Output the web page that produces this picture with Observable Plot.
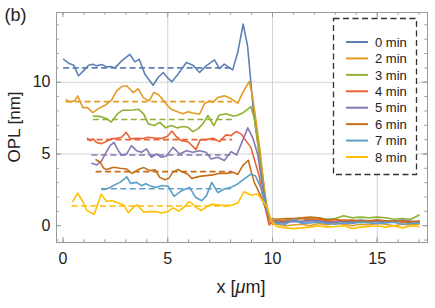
<!DOCTYPE html>
<html><head><meta charset="utf-8">
<script src="https://cdn.jsdelivr.net/npm/d3@7"></script>
<script src="https://cdn.jsdelivr.net/npm/@observablehq/plot@0.6"></script>
<style>
body{margin:0;background:#fff;}
#chart{width:435px;height:308px;font-family:"Liberation Sans",Arial,sans-serif;}
</style>
</head><body><div id="chart"></div>
<script>
// ---- data ----
const names = ["0 min","2 min","3 min","4 min","5 min","6 min","7 min","8 min"];
const colors = ["#5E81B5","#E19C24","#8FB032","#EB6235","#8778B3","#C56E1A","#5D9EC7","#FFBF00"];
const meanLevels = [11.0, 8.65, 7.4, 6.0, 4.93, 3.77, 2.58, 1.37];
const meanStarts = [0.03, 0.15, 1.45, 1.17, 1.38, 1.58, 1.85, 0.43];
const meanEnd = 8.1;
const xTicks = [0, 5, 10, 15];
const yTicks = [0, 5, 10];
const xMinor = d3.range(0, 18);
const yMinor = d3.range(-1, 15);
const xGrid = [5, 10, 15];
const yGrid = [5, 10];

const s0 = [[0.03,11.6],[0.27,11.33],[0.51,11.19],[0.74,10.45],[0.98,10.79],[1.22,11.19],[1.42,11.26],[1.61,11.14],[1.85,11.23],[2.09,11.07],[2.3,11.1],[2.48,11.0],[2.8,11.49],[3.19,11.95],[3.43,11.42],[3.64,11.6],[3.91,10.56],[4.3,9.79],[4.54,10.33],[4.78,10.68],[5.0,10.3],[5.2,10.03],[5.49,10.56],[5.89,11.37],[6.2,11.19],[6.52,10.68],[6.83,11.14],[7.23,11.56],[7.47,10.95],[7.7,11.26],[8.1,10.86],[8.34,12.07],[8.6,14.05],[8.81,12.54],[8.97,9.98],[9.08,8.12],[9.2,6.9],[9.45,4.3],[9.7,1.6],[9.85,0.45],[10.0,0.25]];
const s2 = [[0.16,8.77],[0.35,8.63],[0.55,8.7],[0.7,9.05],[0.95,8.23],[1.17,8.23],[1.42,7.88],[1.69,8.16],[2.01,8.39],[2.33,8.77],[2.56,9.4],[2.8,9.7],[3.04,9.75],[3.35,9.28],[3.59,9.56],[3.83,8.93],[4.11,8.7],[4.33,9.28],[4.54,9.16],[4.78,8.77],[5.0,8.35],[5.17,8.12],[5.49,7.93],[5.73,7.8],[5.97,7.95],[6.2,7.85],[6.52,7.77],[6.75,8.49],[6.99,8.7],[7.15,8.6],[7.39,8.93],[7.7,9.05],[8.02,8.86],[8.34,8.53],[8.58,9.28],[8.89,10.05],[9.05,9.0],[9.18,7.65],[9.4,5.3],[9.65,2.0],[9.85,0.3],[10.0,0.1]];
const s3 = [[1.45,7.65],[1.8,7.6],[2.1,7.45],[2.3,7.22],[2.6,7.8],[2.85,8.05],[3.1,8.05],[3.35,8.07],[3.6,8.12],[3.85,7.8],[4.07,7.1],[4.35,6.98],[4.62,7.2],[4.9,6.82],[5.17,6.98],[5.45,6.82],[5.73,6.91],[5.97,6.86],[6.2,6.56],[6.44,6.75],[6.68,7.1],[6.92,7.68],[7.2,6.98],[7.45,7.7],[7.78,7.8],[8.1,7.65],[8.3,7.68],[8.6,7.88],[8.97,8.3],[9.13,7.5],[9.36,5.0],[9.6,2.2],[9.85,0.4],[10.0,0.35]];
const s4 = [[1.17,6.09],[1.3,5.93],[1.45,6.05],[1.6,5.8],[1.85,5.72],[2.1,5.9],[2.3,6.05],[2.56,6.09],[2.8,6.16],[3.02,6.51],[3.22,6.05],[3.51,6.09],[3.8,6.08],[4.07,6.16],[4.46,6.1],[4.75,6.09],[5.0,6.25],[5.2,6.6],[5.41,6.2],[5.65,5.93],[5.97,5.85],[6.35,5.3],[6.55,6.0],[6.83,6.0],[7.15,6.09],[7.47,5.86],[7.78,6.33],[8.02,6.28],[8.26,6.56],[8.5,6.4],[8.73,5.93],[8.97,5.46],[9.13,4.65],[9.36,3.49],[9.6,1.6],[9.84,0.05],[10.0,0.3]];
const s5 = [[1.38,4.35],[1.61,4.23],[1.85,4.54],[2.06,5.12],[2.25,5.58],[2.43,5.81],[2.64,5.23],[2.8,4.93],[3.04,5.0],[3.27,5.58],[3.51,5.23],[3.75,5.12],[3.99,5.35],[4.22,4.77],[4.46,5.0],[4.7,4.77],[4.94,4.86],[5.25,5.46],[5.57,5.0],[5.89,5.23],[6.2,5.12],[6.52,5.23],[6.83,5.12],[7.07,4.65],[7.39,4.77],[7.7,4.54],[8.02,5.16],[8.29,4.93],[8.54,5.81],[8.82,6.82],[9.05,6.16],[9.29,5.0],[9.5,3.0],[9.72,1.0],[9.95,0.25]];
const s6 = [[1.58,4.6],[1.77,4.42],[1.95,4.0],[2.09,3.91],[2.41,4.07],[2.72,4.0],[3.04,3.95],[3.3,3.65],[3.59,3.91],[3.86,4.05],[4.14,3.84],[4.4,3.9],[4.62,3.37],[4.86,3.2],[5.05,3.3],[5.25,3.75],[5.5,3.92],[5.73,3.72],[5.95,3.6],[6.15,3.3],[6.52,3.44],[6.83,3.49],[7.15,3.54],[7.47,3.66],[7.8,3.65],[8.1,3.72],[8.34,3.58],[8.58,4.19],[8.85,4.56],[8.97,3.84],[9.13,3.02],[9.4,2.2],[9.65,1.3],[9.9,0.5]];
const s7 = [[1.85,2.53],[2.05,2.55],[2.25,2.67],[2.48,2.85],[2.72,3.02],[3.05,3.4],[3.22,2.95],[3.51,3.02],[3.75,2.79],[3.95,2.93],[4.22,2.74],[4.46,2.67],[4.72,2.8],[5.02,2.75],[5.3,2.05],[5.6,2.38],[5.85,2.56],[6.04,2.67],[6.33,1.98],[6.62,1.74],[6.85,2.1],[7.1,3.02],[7.39,2.3],[7.7,2.56],[8.02,2.67],[8.34,2.91],[8.65,3.26],[8.97,3.6],[9.18,3.49],[9.44,2.67],[9.7,1.2],[9.95,0.3]];
const s8 = [[0.47,1.7],[0.7,2.27],[0.95,1.67],[1.14,1.05],[1.49,0.8],[1.82,2.2],[2.07,1.7],[2.33,1.74],[2.64,1.58],[2.9,1.45],[3.12,0.9],[3.4,1.35],[3.55,1.45],[3.85,0.95],[4.14,0.98],[4.45,0.98],[4.72,0.88],[5.02,1.0],[5.25,1.25],[5.52,1.02],[5.75,1.25],[6.0,1.65],[6.12,1.6],[6.36,1.28],[6.6,1.05],[6.83,1.3],[7.1,1.5],[7.47,1.44],[7.78,1.4],[8.1,1.44],[8.34,1.58],[8.65,2.37],[8.97,2.14],[9.29,2.21],[9.53,1.74],[9.76,1.28],[9.95,0.3]];

// substrate region (after the step), shared x positions
const baseX = [10.2,10.6,11.0,11.4,11.8,12.2,12.6,13.0,13.4,13.8,14.2,14.6,15.0,15.4,15.8,16.2,16.6,17.0];
const b0 = [0.25,0.3,0.35,0.3,0.4,0.35,0.3,0.25,0.35,0.3,0.4,0.35,0.3,0.25,0.35,0.3,0.2,0.3];
const b2 = [0.1,0.0,0.05,0.1,0.0,0.15,0.05,0.2,0.1,0.0,0.1,0.05,0.15,0.1,0.0,0.1,0.05,0.1];
const b3 = [0.35,0.4,0.45,0.5,0.5,0.55,0.45,0.5,0.7,0.55,0.6,0.55,0.6,0.55,0.45,0.5,0.45,0.75];
const b4 = [0.3,0.35,0.45,0.5,0.4,0.45,0.35,0.3,0.4,0.35,0.3,0.35,0.4,0.3,0.35,0.25,0.3,0.3];
const b5 = [0.25,0.2,0.3,0.25,0.35,0.3,0.2,0.25,0.3,0.2,0.3,0.25,0.3,0.25,0.3,0.4,0.3,0.2];
const b6 = [0.45,0.5,0.5,0.55,0.6,0.55,0.4,0.45,0.35,0.4,0.35,0.3,0.4,0.35,0.3,0.35,0.25,0.3];
const b7 = [0.15,0.1,0.45,0.15,0.2,0.25,0.15,0.1,0.2,0.15,0.25,0.2,0.15,0.2,0.25,0.1,0.15,0.2];
const b8 = [-0.05,-0.15,-0.2,-0.15,-0.1,0.0,-0.1,-0.05,0.0,-0.2,-0.1,-0.05,0.0,-0.1,0.0,-0.15,0.0,-0.05];

const seriesPts = [s0,s2,s3,s4,s5,s6,s7,s8];
const seriesBase = [b0,b2,b3,b4,b5,b6,b7,b8];

// ---- build tables ----
const rows = [];
seriesPts.forEach((pts,k) => {
  pts.forEach(([x,y]) => rows.push({k, x, y}));
  baseX.forEach((x,i) => rows.push({k, x, y: seriesBase[k][i]}));
});
const means = meanLevels.map((y,k) => ({k, x1: meanStarts[k], x2: meanEnd, y}));

// ---- layout ----
const W = 435, H = 308, mT = 12, mB = 66, mL = 56, mR = 8;
const xDom = [-0.31, 17.4], yDom = [-1.17, 14.86];
const pxX = (W - mL - mR) / (xDom[1] - xDom[0]);
const pxY = (H - mT - mB) / (yDom[1] - yDom[0]);
const frameColor = "#9a9a9a";
const majLen = 5, minLen = 2.7;

const marks = [
  Plot.ruleX(xGrid, {stroke:"#d3d3d3", strokeWidth:1}),
  Plot.ruleY(yGrid, {stroke:"#d3d3d3", strokeWidth:1})
];
for (let k = 0; k < 8; k++) {
  marks.push(Plot.line(rows.filter(d => d.k === k), {x:"x", y:"y", stroke: colors[k], strokeWidth:1.6}));
  marks.push(Plot.ruleY(means.filter(d => d.k === k), {x1:"x1", x2:"x2", y:"y", stroke: colors[k], strokeWidth:1.6, strokeDasharray:"6,3.5"}));
}
// inward ticks on all four sides of the frame
const tickX = (vals, len) => [
  Plot.ruleX(vals, {y1: yDom[0], y2: yDom[0] + len / pxY, stroke: frameColor}),
  Plot.ruleX(vals, {y1: yDom[1], y2: yDom[1] - len / pxY, stroke: frameColor})
];
const tickY = (vals, len) => [
  Plot.ruleY(vals, {x1: xDom[0], x2: xDom[0] + len / pxX, stroke: frameColor}),
  Plot.ruleY(vals, {x1: xDom[1], x2: xDom[1] - len / pxX, stroke: frameColor})
];
marks.push(
  ...tickX(xMinor, minLen), ...tickX(xTicks, majLen),
  ...tickY(yMinor, minLen), ...tickY(yTicks, majLen),
  Plot.frame({stroke: frameColor}),
  Plot.axisX(xTicks, {anchor:"bottom", tickSize:0, tickPadding:10, label:null, fill:"#222", fontSize:16}),
  Plot.axisY(yTicks, {anchor:"left", tickSize:0, tickPadding:6, label:null, fill:"#222", fontSize:16})
);

const plot = Plot.plot({
  width:W, height:H,
  marginTop:mT, marginBottom:mB, marginLeft:mL, marginRight:mR,
  x:{domain:xDom},
  y:{domain:yDom},
  style:{fontFamily:'"Liberation Sans", Arial, sans-serif', fontSize:"16px", color:"#222", background:"white"},
  marks
});

const svg = d3.select(plot);
svg.append("text").attr("x",4.5).attr("y",21).attr("text-anchor","start").attr("font-size",18).attr("fill","#222").text("(b)");
svg.append("text").attr("transform","translate(19.5,127) rotate(-90)").attr("text-anchor","middle")
  .attr("font-size",17).attr("fill","#222").text("OPL [nm]");
const xl = svg.append("text").attr("x",241).attr("y",293).attr("text-anchor","middle").attr("font-size",18).attr("fill","#222");
xl.append("tspan").text("x [");
xl.append("tspan").attr("font-style","italic").text("\u03bc");
xl.append("tspan").text("m]");

// legend
const lg = svg.append("g");
lg.append("rect").attr("x",333.5).attr("y",18.5).attr("width",83).attr("height",156)
  .attr("fill","white").attr("stroke","#333").attr("stroke-width",1.3).attr("stroke-dasharray","6,3.5");
names.forEach((n,k) => {
  const cy = 42 + k*16.43;
  lg.append("line").attr("x1",346).attr("x2",368).attr("y1",cy).attr("y2",cy).attr("stroke",colors[k]).attr("stroke-width",2);
  lg.append("text").attr("x",375).attr("y",cy).attr("dy","0.36em").attr("text-anchor","start").attr("font-size",13).attr("fill","#222").text(n);
});

document.getElementById("chart").appendChild(plot);
</script>
</body></html>
